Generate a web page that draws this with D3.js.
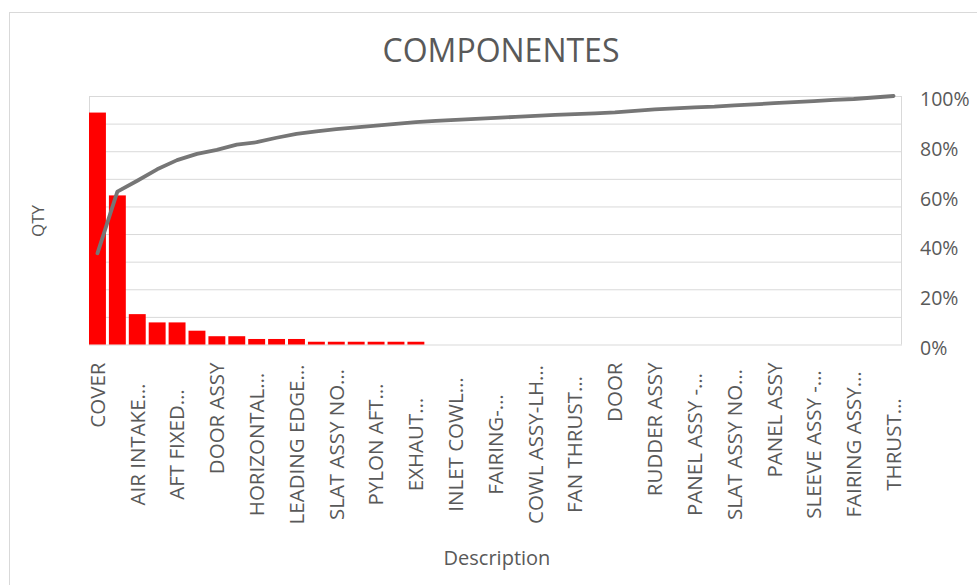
<!DOCTYPE html>
<html>
<head>
<meta charset="utf-8">
<script src="https://cdn.jsdelivr.net/npm/d3@7"></script>
<style>
  body { margin: 0; background: #fff; }
  text { font-family: "Open Sans", "Noto Sans", sans-serif; fill: #595959; }
</style>
</head>
<body>
<div class="pareto"></div>
<script>

const svgWidth = 977;
const svgHeight = 585;

const margin = {
    top: 96,
    right: 75,
    bottom: 240.5,
    left: 89
};

const width = svgWidth - margin.left - margin.right;
const height = svgHeight - margin.top - margin.bottom;

// only every other description is printed on the axis, the others are not readable
const descriptions = [
    "COVER", "", "AIR INTAKE…", "", "AFT FIXED…", "", "DOOR ASSY", "",
    "HORIZONTAL…", "", "LEADING EDGE…", "", "SLAT ASSY NO…", "", "PYLON AFT…", "",
    "EXHAUT…", "", "INLET COWL…", "", "FAIRING-…", "", "COWL ASSY-LH…", "",
    "FAN THRUST…", "", "DOOR", "", "RUDDER ASSY", "", "PANEL ASSY -…", "",
    "SLAT ASSY NO…", "", "PANEL ASSY", "", "SLEEVE ASSY -…", "", "FAIRING ASSY…", "",
    "THRUST…"
];

const qty = [
    84, 54, 11, 8, 8, 5, 3, 3, 2, 2, 2, 1, 1, 1, 1, 1, 1,
    0, 0, 0, 0, 0, 0, 0, 0, 0, 0, 0, 0, 0, 0, 0, 0, 0, 0, 0, 0, 0, 0, 0, 0
];

const cumulativePct = [
    36.7, 61.5, 65.9, 70.5, 74.2, 76.7, 78.3, 80.4, 81.4, 83.2, 84.8,
    85.8, 86.7, 87.4, 88.1, 88.8, 89.5, 90.0, 90.4, 90.8, 91.2, 91.6,
    92.0, 92.4, 92.7, 93.0, 93.4, 94.0, 94.6, 95.0, 95.4, 95.7, 96.2,
    96.6, 97.1, 97.5, 97.9, 98.4, 98.8, 99.4, 100
];

const qtyTicks = [0, 10, 20, 30, 40, 50, 60, 70, 80, 90];
const pctTicks = [0, 20, 40, 60, 80, 100];

const svg = d3
    .select(".pareto")
    .append("svg")
    .attr("width", svgWidth)
    .attr("height", svgHeight);

// chart border
svg.append("rect")
    .attr("x", 9.5)
    .attr("y", 12.5)
    .attr("width", svgWidth)
    .attr("height", svgHeight)
    .attr("fill", "none")
    .attr("stroke", "#d9d9d9");

const chartGroup = svg.append("g")
    .attr("transform", `translate(${margin.left}, ${margin.top})`);

const xBandScale = d3.scaleBand()
    .domain(d3.range(descriptions.length))
    .range([0, width])
    .paddingInner(0.15)
    .paddingOuter(0);

const yLinearScale = d3.scaleLinear()
    .domain([0, 90])
    .range([height, 0]);

const pctScale = d3.scaleLinear()
    .domain([0, 100])
    .range([height, 0]);

// gridlines from the primary axis
const leftAxis = d3.axisLeft(yLinearScale)
    .tickValues(qtyTicks)
    .tickSize(-width)
    .tickFormat("");

chartGroup.append("g")
    .classed("grid", true)
    .call(leftAxis)
    .call(g => g.select(".domain").remove())
    .call(g => g.selectAll("line").attr("stroke", "#d9d9d9"));

chartGroup.append("line")
    .attr("x1", 0.5)
    .attr("x2", 0.5)
    .attr("y1", 0)
    .attr("y2", height)
    .attr("stroke", "#d9d9d9");

chartGroup.append("line")
    .attr("x1", width - 0.5)
    .attr("x2", width - 0.5)
    .attr("y1", 0)
    .attr("y2", height)
    .attr("stroke", "#d9d9d9");

chartGroup.selectAll(".bar")
    .data(qty)
    .enter()
    .append("rect")
    .classed("bar", true)
    .attr("x", (d, i) => xBandScale(i))
    .attr("y", d => yLinearScale(d))
    .attr("width", xBandScale.bandwidth())
    .attr("height", d => height - yLinearScale(d))
    .attr("fill", "#ff0000");

const line = d3.line()
    .x((d, i) => xBandScale(i) + xBandScale.bandwidth() / 2)
    .y(d => pctScale(d));

chartGroup.append("path")
    .datum(cumulativePct)
    .attr("d", line)
    .attr("fill", "none")
    .attr("stroke", "#767676")
    .attr("stroke-width", 3.8)
    .attr("stroke-linejoin", "round")
    .attr("stroke-linecap", "round");

// right axis, percentages
const rightAxis = d3.axisRight(pctScale)
    .tickValues(pctTicks)
    .tickSize(0)
    .tickPadding(18)
    .tickFormat(d => d + "%");

chartGroup.append("g")
    .attr("transform", `translate(${width}, 0)`)
    .call(rightAxis)
    .call(g => g.select(".domain").remove())
    .call(g => g.selectAll("text")
        .attr("dy", "0.5em")
        .style("font-size", "19.5px")
        .style("font-family", null)
        .attr("fill", null));

// category labels, every other one; truncated ones sit centred in the label box
const bottomAxis = d3.axisBottom(xBandScale)
    .tickValues(d3.range(0, descriptions.length, 2))
    .tickSize(0)
    .tickFormat(i => descriptions[i]);

chartGroup.append("g")
    .attr("transform", `translate(0, ${height})`)
    .call(bottomAxis)
    .call(g => g.select(".domain").remove())
    .call(g => g.selectAll("text")
        .attr("transform", "rotate(-90)")
        .attr("x", i => descriptions[i].endsWith("…") ? -100 : -18)
        .attr("y", 0)
        .attr("dy", "0.36em")
        .style("text-anchor", i => descriptions[i].endsWith("…") ? "middle" : "end")
        .style("font-size", "20.5px")
        .style("font-family", null)
        .attr("fill", null));

svg.append("text")
    .attr("x", 501)
    .attr("y", 62)
    .style("text-anchor", "middle")
    .style("font-size", "32px")
    .text("COMPONENTES");

svg.append("text")
    .attr("x", 497)
    .attr("y", 565)
    .style("text-anchor", "middle")
    .style("font-size", "20px")
    .text("Description");

svg.append("text")
    .attr("transform", "rotate(-90)")
    .attr("x", -221)
    .attr("y", 44)
    .style("text-anchor", "middle")
    .style("font-size", "17px")
    .text("QTY");

</script>
</body>
</html>
